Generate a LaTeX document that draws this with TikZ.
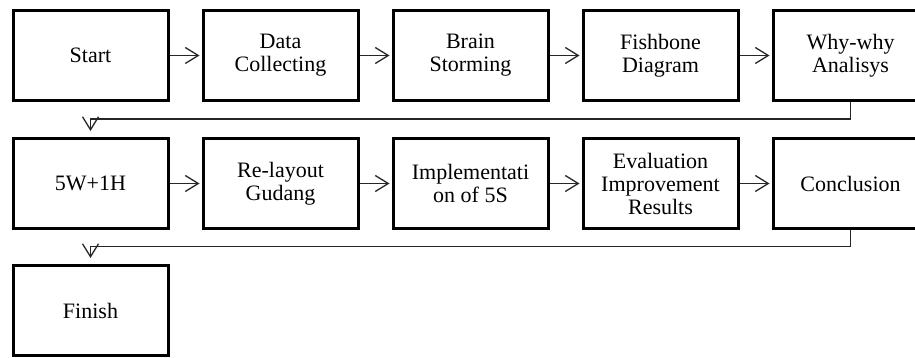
\documentclass[tikz,border=0pt]{standalone}
\usepackage{fontspec}
\setmainfont{Liberation Serif}
\usetikzlibrary{positioning,arrows.meta}

\begin{document}
\begin{tikzpicture}[x=1pt, y=1pt, node distance=32pt,
    stepbox/.style={draw, line width=3pt, minimum width=155pt, minimum height=90pt,
        align=center, inner sep=2pt, font=\fontsize{22}{23}\selectfont},
    flow/.style={-{Straight Barb[length=13pt,width=16pt]}, line width=1.3pt, draw=black!85} ]

    \useasboundingbox (0,0) rectangle (915,-358);

    % first row
    \node[stepbox] (start) at (90.5,-55.5) {Start};
    \node[stepbox, right=of start] (collect) {Data\\Collecting};
    \node[stepbox, right=of collect] (brain) {Brain\\Storming};
    \node[stepbox, right=of brain] (fishbone) {Fishbone\\Diagram};
    \node[stepbox, right=of fishbone] (whywhy) {Why-why\\Analisys};

    % second row
    \node[stepbox, below=35pt of start] (fivew) {5W+1H};
    \node[stepbox, right=of fivew] (relayout) {Re-layout\\Gudang};
    \node[stepbox, right=of relayout] (impl) {Implementati\\on of 5S};
    \node[stepbox, right=of impl] (eval) {Evaluation\\Improvement\\Results};
    \node[stepbox, right=of eval] (concl) {Conclusion};

    % last row
    \node[stepbox, below=34pt of fivew] (finish) {Finish};

    \draw[flow, shorten >=2pt] (start) -- (collect);
    \draw[flow, shorten >=2pt] (collect) -- (brain);
    \draw[flow, shorten >=2pt] (brain) -- (fishbone);
    \draw[flow, shorten >=2pt] (fishbone) -- (whywhy);

    \draw[flow, shorten >=2pt] (fivew) -- (relayout);
    \draw[flow, shorten >=2pt] (relayout) -- (impl);
    \draw[flow, shorten >=2pt] (impl) -- (eval);
    \draw[flow, shorten >=2pt] (eval) -- (concl);

    % back to the next row
    \draw[flow, shorten >=6pt] (whywhy.south) -- ++(0,-17) -| (fivew.north);
    \draw[flow, shorten >=6pt] (concl.south) -- ++(0,-16.5) -| (finish.north);

\end{tikzpicture}
\end{document}
